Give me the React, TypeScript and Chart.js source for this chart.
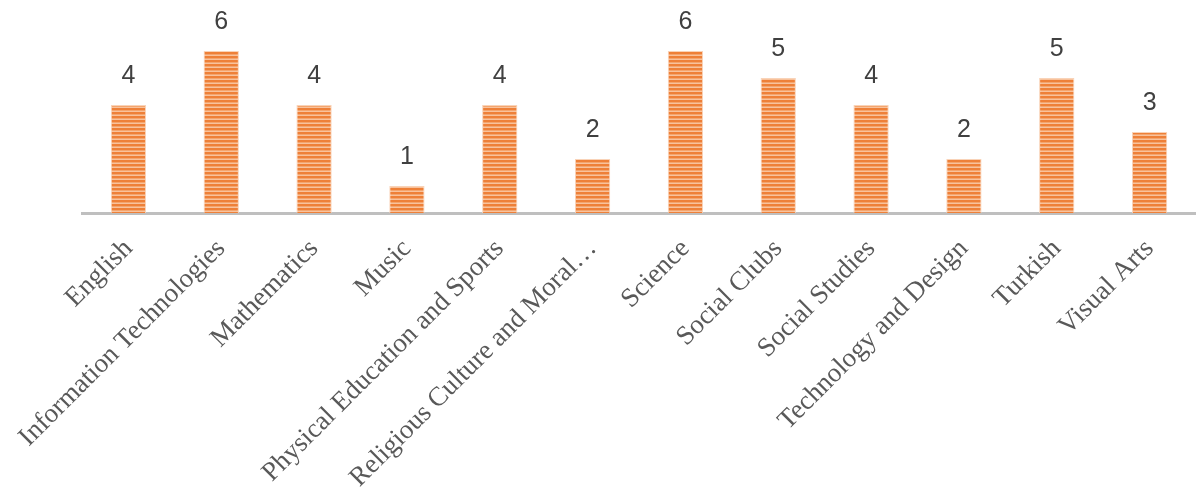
import React, { useEffect, useRef } from "react";
import { Chart, registerables } from "chart.js";

Chart.register(...registerables);

const categories = [
  "English",
  "Information Technologies",
  "Mathematics",
  "Music",
  "Physical Education and Sports",
  "Religious Culture and Moral…",
  "Science",
  "Social Clubs",
  "Social Studies",
  "Technology and Design",
  "Turkish",
  "Visual Arts",
];
const values = [4, 6, 4, 1, 4, 2, 6, 5, 4, 2, 5, 3];

function makePattern(): CanvasPattern | string {
  const c = document.createElement("canvas");
  c.width = 4;
  c.height = 4;
  const g = c.getContext("2d");
  if (!g) return "#ED7D31";
  g.fillStyle = "#EE8038";
  g.fillRect(0, 0, 4, 2);
  g.fillStyle = "#F4A56E";
  g.fillRect(0, 2, 4, 1);
  g.fillStyle = "#F8C29C";
  g.fillRect(0, 3, 4, 1);
  const p = g.createPattern(c, "repeat");
  return p || "#ED7D31";
}

const valueLabels = {
  id: "valueLabels",
  afterDatasetsDraw(chart: any) {
    const ctx = chart.ctx;
    const meta = chart.getDatasetMeta(0);
    ctx.save();
    ctx.font = "25px 'Liberation Sans', Arial, sans-serif";
    ctx.fillStyle = "#404040";
    ctx.textAlign = "center";
    ctx.textBaseline = "alphabetic";
    meta.data.forEach((bar: any, i: number) => {
      ctx.fillText(String(chart.data.datasets[0].data[i]), bar.x, bar.y - 22);
    });
    ctx.restore();
  },
};

export default function App() {
  const ref = useRef<HTMLCanvasElement | null>(null);
  useEffect(() => {
    if (!ref.current) return;
    const chart = new Chart(ref.current, {
      type: "bar",
      data: {
        labels: categories,
        datasets: [
          {
            data: values,
            backgroundColor: makePattern() as any,
            borderColor: "#F9D3B8",
            borderWidth: 1,
            categoryPercentage: 1,
            barPercentage: 0.38,
          },
        ],
      },
      options: {
        animation: false,
        responsive: true,
        maintainAspectRatio: false,
        layout: { padding: { left: 82, right: 0, top: 10.5, bottom: 0 } },
        plugins: {
          legend: { display: false },
          tooltip: { enabled: false },
        },
        scales: {
          x: {
            grid: { display: false, drawTicks: false },
            border: { display: true, color: "#BFBFBF", width: 3 },
            ticks: {
              autoSkip: false,
              maxRotation: 45,
              minRotation: 45,
              padding: 20,
              color: "#595959",
              font: { family: "'Liberation Serif', 'Times New Roman', serif", size: 27 },
            },
            afterFit: (scale: any) => {
              scale.height = 275;
            },
          },
          y: {
            display: false,
            min: 0,
            max: 7.5,
          },
        },
      },
      plugins: [valueLabels],
    });
    return () => chart.destroy();
  }, []);
  return (
    <div style={{ position: "absolute", left: 0, top: 0, width: 1196, height: 488 }}>
      <canvas ref={ref} />
    </div>
  );
}
